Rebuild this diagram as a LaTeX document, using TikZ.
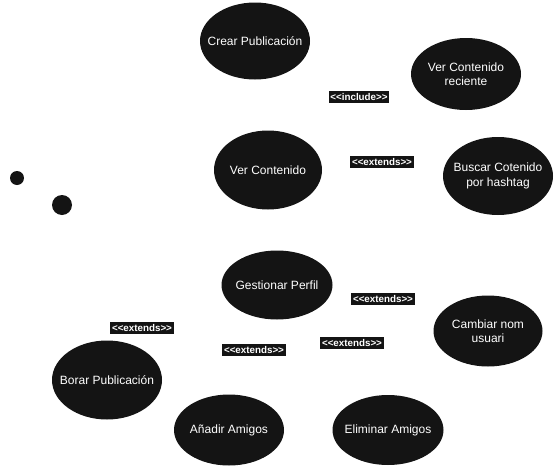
\documentclass[tikz,border=0pt]{standalone}
\usepackage{fontspec}
\setmainfont{Liberation Sans}
\usetikzlibrary{shapes.geometric}
\definecolor{casefill}{HTML}{141414}
\begin{document}
\begin{tikzpicture}[x=1pt, y=-1pt]
  \tikzstyle{usecase}=[ellipse, fill=casefill, inner sep=0pt]
  \tikzstyle{casetext}=[text=white, align=center, inner sep=0pt, font=\fontsize{12}{14.5}\selectfont]
  \tikzstyle{stereo}=[rectangle, fill=casefill, text=white, inner xsep=1.6pt, inner ysep=2.4pt, font=\fontsize{9.8}{10}\selectfont\bfseries]
  \tikzstyle{dot}=[circle, fill=casefill, inner sep=0pt]

  \useasboundingbox (0, 0) rectangle (554, 466);

  \node[dot, minimum size=14pt] (d1) at (17, 178) {};
  \node[dot, minimum size=20pt] (d2) at (62, 205) {};

  \node[usecase, minimum width=110pt, minimum height=77pt, label={[casetext]center:Crear Publicación}] (crear) at (255, 41) {};
  \node[usecase, minimum width=110pt, minimum height=72pt, label={[casetext]center:Ver Contenido\\reciente}] (reciente) at (466, 74) {};
  \node[usecase, minimum width=108pt, minimum height=79pt, label={[casetext]center:Ver Contenido}] (ver) at (268, 170) {};
  \node[usecase, minimum width=110pt, minimum height=78pt, label={[casetext]center:Buscar Cotenido\\por hashtag}] (buscar) at (498, 176) {};
  \node[usecase, minimum width=111pt, minimum height=69pt, label={[casetext]center:Gestionar Perfil}] (perfil) at (277, 285) {};
  \node[usecase, minimum width=109pt, minimum height=71pt, label={[casetext]center:Cambiar nom\\usuari}] (cambiar) at (488, 331) {};
  \node[usecase, minimum width=110pt, minimum height=79pt, label={[casetext]center:Borar Publicación}] (borar) at (107, 380) {};
  \node[usecase, minimum width=110pt, minimum height=71pt, label={[casetext]center:Añadir Amigos}] (anadir) at (229, 430) {};
  \node[usecase, minimum width=111pt, minimum height=70pt, label={[casetext]center:Eliminar Amigos}] (eliminar) at (388, 430) {};

  \node[stereo] (inc)  at (359, 97)  {<{}<include>{}>};
  \node[stereo] (ext1) at (382, 162) {<{}<extends>{}>};
  \node[stereo] (ext2) at (383, 299) {<{}<extends>{}>};
  \node[stereo] (ext3) at (142, 328) {<{}<extends>{}>};
  \node[stereo] (ext4) at (254, 350) {<{}<extends>{}>};
  \node[stereo] (ext5) at (352, 343) {<{}<extends>{}>};
\end{tikzpicture}
\end{document}
